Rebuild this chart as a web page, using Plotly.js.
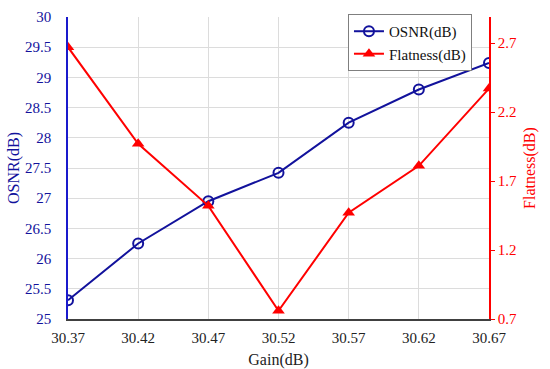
<!DOCTYPE html>
<html>
<head>
<meta charset="utf-8">
<script src="https://cdn.plot.ly/plotly-3.0.1.min.js"></script>
<style>
  html, body { margin: 0; padding: 0; background: #fff; }
  #chart { width: 550px; height: 369px; }
</style>
</head>
<body>
<div id="chart"></div>
<script>
const gain = [30.37, 30.42, 30.47, 30.52, 30.57, 30.62, 30.67];
const gainLabels = ["30.37", "30.42", "30.47", "30.52", "30.57", "30.62", "30.67"];
const osnr = [25.31, 26.25, 26.95, 27.42, 28.25, 28.80, 29.24];
const flatness = [2.67, 1.97, 1.52, 0.76, 1.47, 1.81, 2.37];
const osnrTicks = [25, 25.5, 26, 26.5, 27, 27.5, 28, 28.5, 29, 29.5, 30];
const flatTicks = [0.7, 1.2, 1.7, 2.2, 2.7];

const blue = "#12129c";
const red = "#ff0000";
const font = "Liberation Serif, Times New Roman, serif";

const traces = [
    {
        x: gain,
        y: osnr,
        name: "OSNR(dB)",
        type: "scatter",
        mode: "lines+markers",
        line: { color: blue, width: 2 },
        marker: { symbol: "circle-open", size: 10, color: blue, line: { width: 2, color: blue } },
    },
    {
        x: gain,
        y: flatness,
        name: "Flatness(dB)",
        yaxis: "y2",
        type: "scatter",
        mode: "lines+markers",
        line: { color: red, width: 2 },
        marker: { symbol: "triangle-up", size: 11, color: red },
    }
];

const layout = {
    width: 550,
    height: 369,
    margin: { l: 68, r: 61, t: 17, b: 50 },
    paper_bgcolor: "#fff",
    plot_bgcolor: "#fff",
    font: { family: font, size: 15, color: "#222" },
    showlegend: true,
    legend: {
        x: 0.665, y: 1.01, xanchor: "left", yanchor: "top",
        bgcolor: "#fff", bordercolor: "#7f7f7f", borderwidth: 1,
        font: { family: font, size: 15, color: "#111" },
        entrywidth: 105,
        tracegroupgap: 0,
    },
    xaxis: {
        range: [30.37, 30.67],
        tickvals: gain,
        ticktext: gainLabels,
        showgrid: true,
        gridcolor: "#dcdcdc",
        gridwidth: 1,
        zeroline: false,
        showline: true,
        linecolor: "#404040",
        linewidth: 1.5,
        ticks: "",
        ticklabelstandoff: 4,
        tickfont: { family: font, size: 15, color: "#222" },
        title: { text: "Gain(dB)", font: { family: font, size: 16, color: "#222" }, standoff: 9 },
    },
    yaxis: {
        range: [25, 30],
        tickvals: osnrTicks,
        ticktext: osnrTicks.map(String),
        showgrid: true,
        gridcolor: "#dcdcdc",
        gridwidth: 1,
        zeroline: false,
        showline: true,
        linecolor: "#1a1acc",
        linewidth: 1.5,
        ticks: "",
        ticklabelstandoff: 12,
        tickfont: { family: font, size: 15, color: blue },
        title: { text: "OSNR(dB)", font: { family: font, size: 16, color: blue }, standoff: 1 },
    },
    yaxis2: {
        overlaying: "y",
        side: "right",
        range: [0.7, 2.889],
        tickvals: flatTicks,
        ticktext: flatTicks.map(v => v.toFixed(1)),
        showgrid: false,
        zeroline: false,
        showline: true,
        linecolor: red,
        linewidth: 1.5,
        ticks: "outside",
        ticklen: 4,
        tickcolor: red,
        tickfont: { family: font, size: 15, color: red },
        title: { text: "Flatness(dB)", font: { family: font, size: 16, color: red }, standoff: 8 },
    },
};

Plotly.newPlot(document.getElementById("chart"), traces, layout, { displayModeBar: false });
</script>
</body>
</html>
